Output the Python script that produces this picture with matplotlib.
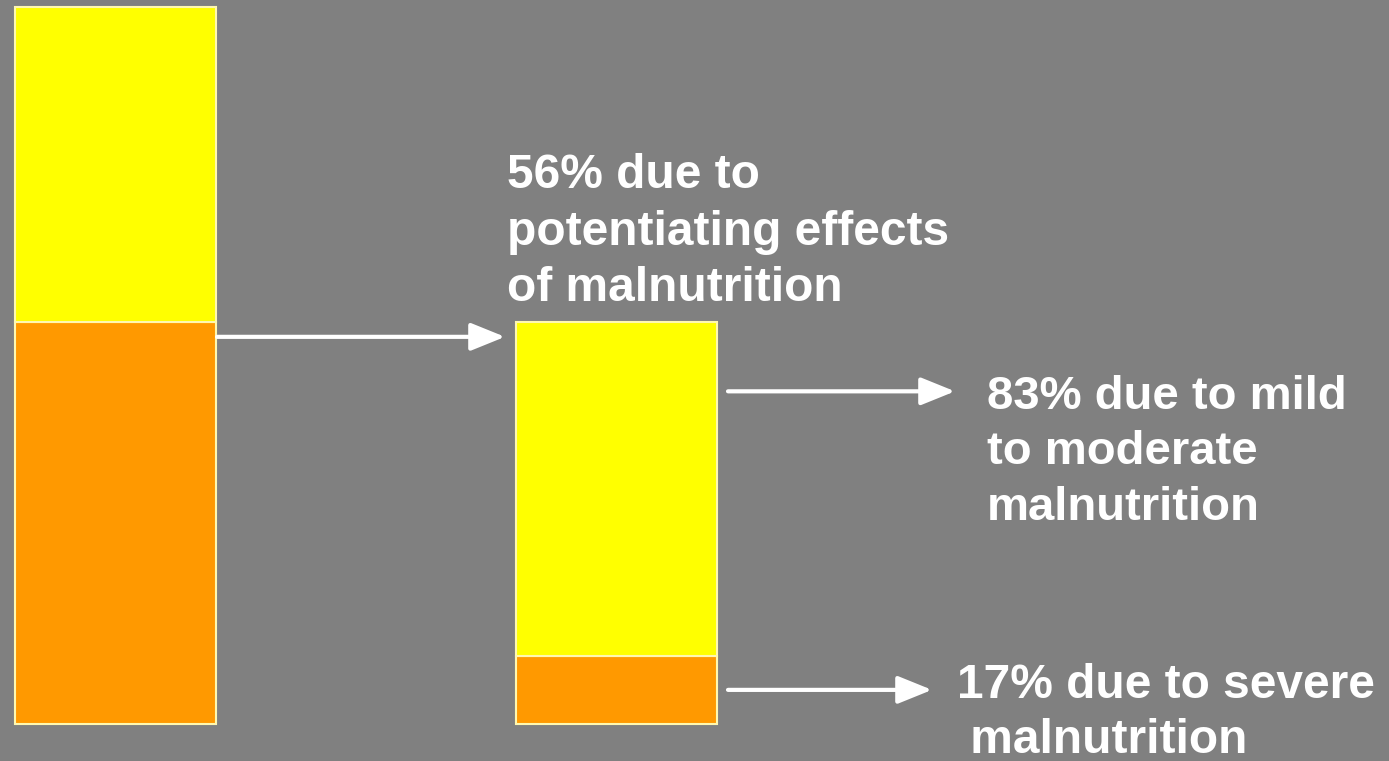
import matplotlib.pyplot as plt
from matplotlib import font_manager

# values (percent of all deaths)
categories = ["All deaths", "Malnutrition-related"]
potentiating = 56          # % of all deaths due to potentiating effects of malnutrition
other = 100 - potentiating
severe_share = 17          # % of the malnutrition part
mild_share = 83

labels = [
    "56% due to\npotentiating effects\nof malnutrition",
    "83% due to mild\nto moderate\nmalnutrition",
    "17% due to severe\n malnutrition",
]

bg = "#808080"
yellow = "#FFFF00"
orange = "#FF9900"
edge = "#FFF8B0"

names = {f.name for f in font_manager.fontManager.ttflist}
narrow = "Liberation Sans Narrow" if "Liberation Sans Narrow" in names else "Liberation Sans"

fig = plt.figure(figsize=(13.89, 7.61), dpi=100, facecolor=bg)
ax = fig.add_axes([0, 0, 1, 1], facecolor=bg)
ax.set_xlim(0, 1389)
ax.set_ylim(-5.16, 100.98)
ax.axis("off")

xpos = [115, 616]
w = 201

# left bar: all deaths
ax.bar(xpos[0], potentiating, width=w, color=orange, edgecolor=edge, linewidth=1.5)
ax.bar(xpos[0], other, bottom=potentiating, width=w, color=yellow, edgecolor=edge, linewidth=1.5)

# right bar: malnutrition part split by severity
sev = potentiating * severe_share / 100
mild = potentiating * mild_share / 100
ax.bar(xpos[1], sev, width=w, color=orange, edgecolor=edge, linewidth=1.5)
ax.bar(xpos[1], mild, bottom=sev, width=w, color=yellow, edgecolor=edge, linewidth=1.5)

arrow = dict(arrowstyle="-|>,head_length=2.1,head_width=0.85", color="white", lw=3,
             shrinkA=0, shrinkB=0)
ax.annotate("", xy=(505, potentiating - 2.0), xytext=(217, potentiating - 2.0), arrowprops=arrow)
ax.annotate("", xy=(955, 46.4), xytext=(728, 46.4), arrowprops=arrow)
ax.annotate("", xy=(932, sev / 2), xytext=(728, sev / 2), arrowprops=arrow)

ax.text(507, 68.6, labels[0], color="white", fontsize=34.5, fontweight="bold",
        family="Liberation Sans", va="center", ha="left", linespacing=1.33)
ax.text(987, 37.9, labels[1], color="white", fontsize=34, fontweight="bold",
        family=narrow, va="center", ha="left", linespacing=1.34)
ax.text(957, 1.5, labels[2], color="white", fontsize=34.5, fontweight="bold",
        family=narrow, va="center", ha="left", linespacing=1.28)

fig.savefig("out.png", dpi=100, facecolor=bg)
